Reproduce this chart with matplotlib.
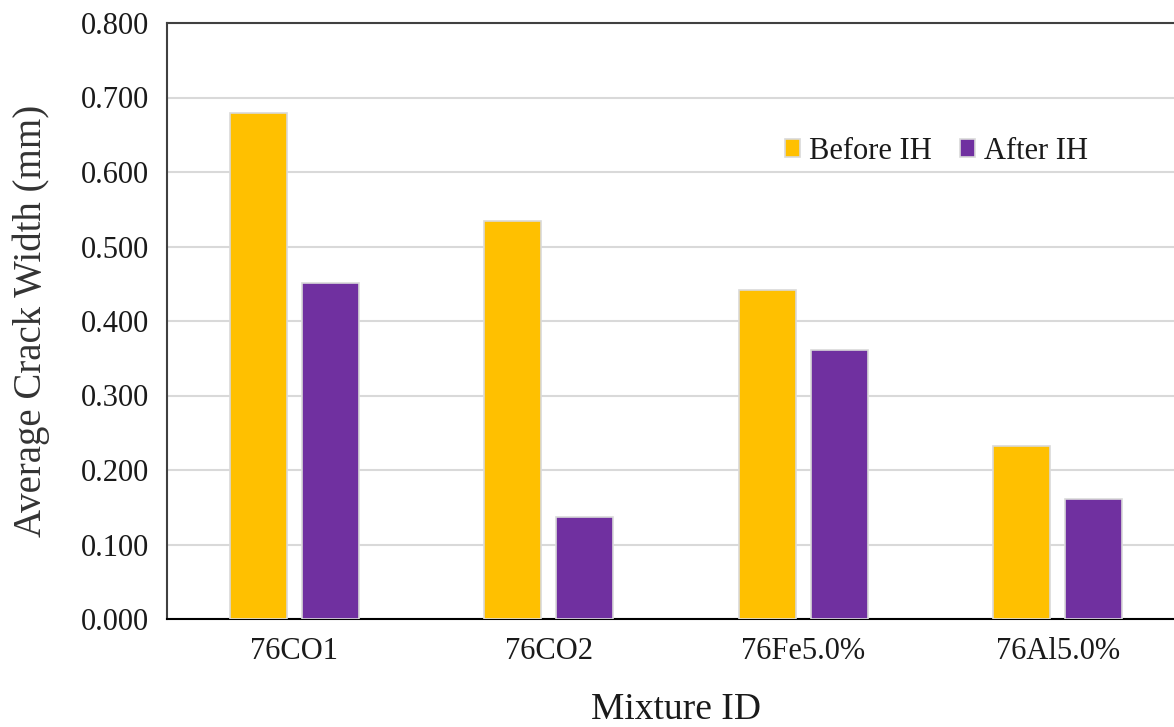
import numpy as np
from matplotlib import pyplot as plt
from matplotlib.ticker import FormatStrFormatter

mixtures = ["76CO1", "76CO2", "76Fe5.0%", "76Al5.0%"]
before_ih = [0.679, 0.534, 0.442, 0.232]
after_ih = [0.451, 0.137, 0.361, 0.161]

plt.rcParams['font.family'] = ['Liberation Serif', 'DejaVu Serif']

fig = plt.figure(figsize=(11.74, 7.27), dpi=100)
# axes runs a little past the right edge, like the cropped original
ax = fig.add_axes([167 / 1174, 1 - 619 / 727, 1018 / 1174, 596 / 727])

x = np.arange(len(mixtures))
w = 0.224
off = 0.1415
ax.bar(x - off, before_ih, w, color="#FFC000", edgecolor="#D9D9D9", linewidth=1.2,
       label="Before IH", zorder=3)
ax.bar(x + off, after_ih, w, color="#7030A0", edgecolor="#D9D9D9", linewidth=1.2,
       label="After IH", zorder=3)

ax.set_xlim(-0.5, 3.5)
ax.set_ylim(0, 0.8)
ax.set_yticks(np.arange(0, 0.81, 0.1))
ax.yaxis.set_major_formatter(FormatStrFormatter('%.3f'))
ax.set_xticks(x)
ax.set_xticklabels(mixtures)
ax.tick_params(axis='both', length=0, labelsize=22, labelcolor="#1a1a1a")
ax.tick_params(axis='y', pad=13)
ax.tick_params(axis='x', pad=13)
ax.grid(axis='y', color="#D9D9D9", linewidth=1.5, zorder=0)

for s in ax.spines.values():
    s.set_color("#404040")
    s.set_linewidth(1.5)
ax.spines['bottom'].set_color("black")

ax.set_ylabel("Average Crack Width (mm)", fontsize=28, color="#333333", labelpad=22)
ax.set_xlabel("Mixture ID", fontsize=27, color="#1a1a1a", labelpad=19)

ax.legend(loc='upper left', bbox_to_anchor=(0.58, 0.855), ncol=2, frameon=False,
          fontsize=22, handlelength=0.5, handleheight=0.5, handletextpad=0.3,
          columnspacing=0.9, labelcolor="#1a1a1a")

plt.savefig("out.png", dpi=100)
